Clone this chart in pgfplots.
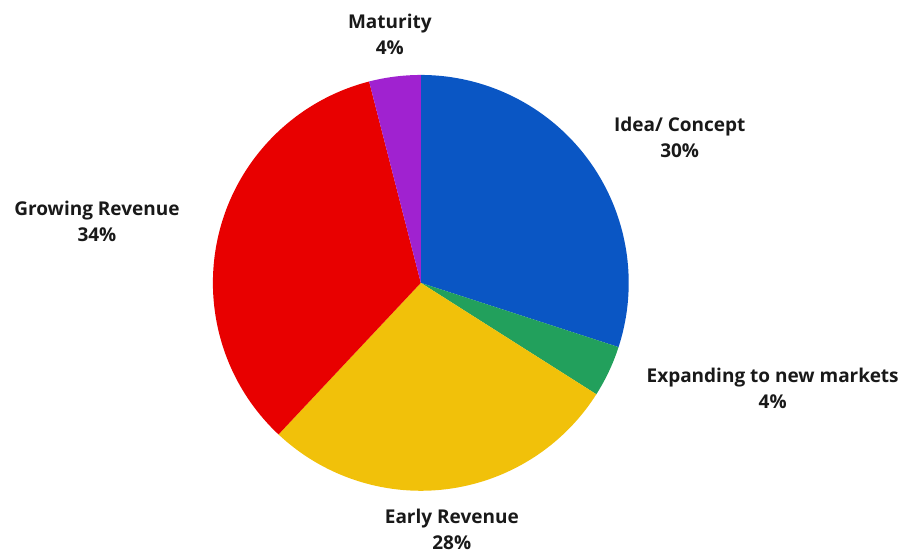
\documentclass[border=0pt]{standalone}
\usepackage{pgfplots}
\usepackage{pgfplotstable}
\pgfplotsset{compat=1.18}
\usepackage{fontspec}
\setmainfont{Open Sans}
\definecolor{cBlue}{RGB}{10,86,196}
\definecolor{cGreen}{RGB}{34,160,92}
\definecolor{cYellow}{RGB}{241,193,10}
\definecolor{cRed}{RGB}{232,0,0}
\definecolor{cPurple}{RGB}{160,34,208}
\pgfplotstableread[col sep=comma]{
label,value,color,lx,ly
Idea/ Concept,30,cBlue,680,416
Expanding to new markets,4,cGreen,773,164
Early Revenue,28,cYellow,452,23
Growing Revenue,34,cRed,97,332
Maturity,4,cPurple,390,519
}\piedata
\begin{document}
\begin{tikzpicture}
\begin{axis}[
  scale only axis, width=902pt, height=553pt,
  xmin=0, xmax=902, ymin=0, ymax=553,
  hide axis, clip=false,
]
\addplot[draw=none, forget plot] coordinates {(0,0) (902,553)};
\pgfplotsextra{
  \gdef\angstart{90}
  \foreach \i in {0,...,4}{
    \pgfplotstablegetelem{\i}{value}\of\piedata \let\v\pgfplotsretval
    \pgfplotstablegetelem{\i}{color}\of\piedata \let\col\pgfplotsretval
    \pgfplotstablegetelem{\i}{label}\of\piedata \let\lab\pgfplotsretval
    \pgfplotstablegetelem{\i}{lx}\of\piedata \let\lx\pgfplotsretval
    \pgfplotstablegetelem{\i}{ly}\of\piedata \let\ly\pgfplotsretval
    \pgfmathsetmacro\angend{\angstart-3.6*\v}
    \fill[\col] (axis cs:421,270) -- ++(\angstart:208pt)
      arc[start angle=\angstart, end angle=\angend, radius=208pt] -- cycle;
    \node[align=center, font=\bfseries\fontsize{19}{26}\selectfont, text=black!90]
      at (axis cs:\lx,\ly) {\lab\\\v\%};
    \xdef\angstart{\angend}
  }
}
\end{axis}
\end{tikzpicture}
\end{document}
